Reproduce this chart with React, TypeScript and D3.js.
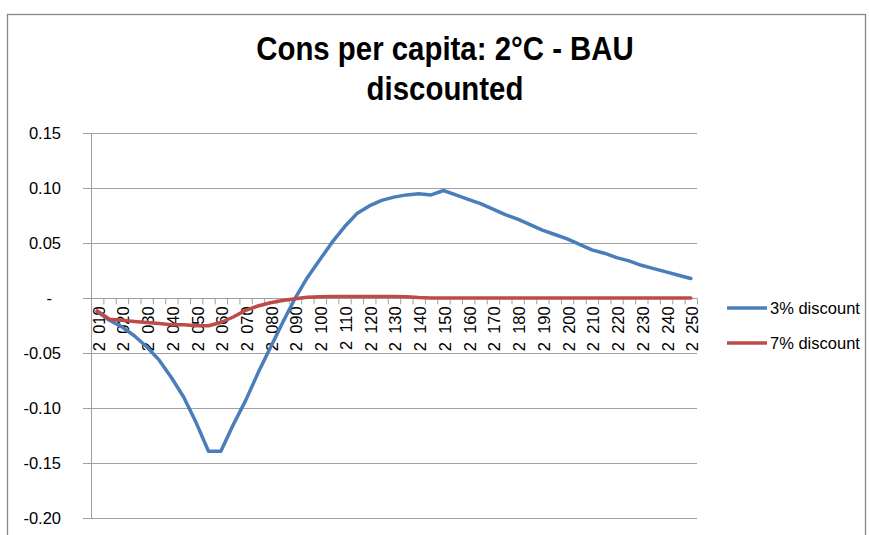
import React from "react";
import * as d3 from "d3";

const years = [
  2010, 2015, 2020, 2025, 2030, 2035, 2040, 2045, 2050, 2055,
  2060, 2065, 2070, 2075, 2080, 2085, 2090, 2095, 2100, 2105,
  2110, 2115, 2120, 2125, 2130, 2135, 2140, 2145, 2150, 2155,
  2160, 2165, 2170, 2175, 2180, 2185, 2190, 2195, 2200, 2205,
  2210, 2215, 2220, 2225, 2230, 2235, 2240, 2245, 2250,
];

const discount3 = [
  -0.012, -0.02, -0.026, -0.034, -0.044, -0.056, -0.072, -0.09, -0.113, -0.139,
  -0.139, -0.115, -0.093, -0.068, -0.045, -0.022, 0.0, 0.019, 0.035, 0.051,
  0.065, 0.077, 0.084, 0.089, 0.092, 0.094, 0.095, 0.094, 0.098, 0.094,
  0.09, 0.086, 0.081, 0.076, 0.072, 0.067, 0.062, 0.058, 0.054, 0.049,
  0.044, 0.041, 0.037, 0.034, 0.03, 0.027, 0.024, 0.021, 0.018,
];

const discount7 = [
  -0.0115, -0.019, -0.02, -0.021, -0.022, -0.023, -0.024, -0.024, -0.025, -0.025,
  -0.022, -0.017, -0.011, -0.007, -0.004, -0.002, -0.0005, 0.001, 0.0015, 0.0017,
  0.0017, 0.0017, 0.0017, 0.0017, 0.0017, 0.0015, 0.0007, 0.0002, 0.0002, 0.0002,
  0.0002, 0.0002, 0.0002, 0.0002, 0.0002, 0.0002, 0.0002, 0.0002, 0.0002, 0.0002,
  0.0002, 0.0002, 0.0002, 0.0002, 0.0002, 0.0002, 0.0002, 0.0002, 0.0002,
];

const yTicks = [0.15, 0.1, 0.05, 0, -0.05, -0.1, -0.15, -0.2];
const yTickLabels = ["0.15", "0.10", "0.05", "-", "-0.05", "-0.10", "-0.15", "-0.20"];

const titleLines = ["Cons per capita: 2°C - BAU", "discounted"];
const seriesNames = ["3% discount", "7% discount"];
const seriesColors = ["#4A7EBB", "#BE4B48"];

const font = "'Liberation Sans', Arial, sans-serif";

// thousands separator like the Excel export: "2 010"
const fmtYear = (y: number) => {
  const s = String(y);
  return s.slice(0, 1) + "\u2002" + s.slice(1);
};

export default function App() {
  const W = 869;
  const H = 535;
  const plot = { left: 91, right: 697, top: 133.3, bottom: 518.3 };

  const x = d3
    .scaleBand<number>()
    .domain(years)
    .range([plot.left, plot.right])
    .padding(0);
  const cx = (y: number) => (x(y) as number) + x.bandwidth() / 2;

  const y = d3.scaleLinear().domain([-0.2, 0.15]).range([plot.bottom, plot.top]);
  const y0 = y(0);

  const line = d3
    .line<number>()
    .x((_, i) => cx(years[i]))
    .y((d) => y(d))
    .curve(d3.curveLinear);

  const series = [discount3, discount7];

  return (
    <div style={{ position: "fixed", left: 0, top: 0 }}>
      <svg width={W} height={H} style={{ display: "block", background: "#fff" }}>
        {/* chart frame */}
        <rect x={7.5} y={14.5} width={858} height={H} fill="#fff" stroke="#898989" strokeWidth={1.3} />

        {/* title, squeezed to mimic the condensed Calibri look */}
        {titleLines.map((t, i) => (
          <text
            key={"tt" + i}
            transform={`translate(445,${60 + i * 40}) scale(0.865,1)`}
            textAnchor="middle"
            fontFamily={font}
            fontWeight="bold"
            fontSize={34}
            fill="#000"
          >
            {t}
          </text>
        ))}

        {/* horizontal gridlines and y ticks */}
        {yTicks.map((t, i) => (
          <g key={"g" + i}>
            {t !== 0 && (
              <line
                x1={plot.left - 8}
                x2={plot.right}
                y1={Math.round(y(t)) + 0.5}
                y2={Math.round(y(t)) + 0.5}
                stroke="#a0a0a0"
                strokeWidth={1}
              />
            )}
            <text
              x={t === 0 ? 52 : 61}
              y={y(t)}
              dy="0.35em"
              textAnchor="end"
              fontFamily={font}
              fontSize={16.5}
              fill="#000"
            >
              {yTickLabels[i]}
            </text>
          </g>
        ))}

        {/* y axis line */}
        <line
          x1={plot.left + 0.5}
          x2={plot.left + 0.5}
          y1={plot.top}
          y2={plot.bottom}
          stroke="#a0a0a0"
          strokeWidth={1}
        />

        {/* x axis at zero */}
        <line x1={plot.left - 8} x2={plot.right} y1={Math.round(y0) + 0.5} y2={Math.round(y0) + 0.5} stroke="#a0a0a0" />
        {years.map((yr) => (
          <line
            key={"t" + yr}
            x1={(x(yr) as number) + 0.5}
            x2={(x(yr) as number) + 0.5}
            y1={y0}
            y2={y0 + 6}
            stroke="#a0a0a0"
          />
        ))}
        <line x1={plot.right + 0.5} x2={plot.right + 0.5} y1={y0} y2={y0 + 6} stroke="#a0a0a0" />

        {years
          .filter((_, i) => i % 2 === 0)
          .map((yr) => (
            <text
              key={"l" + yr}
              transform={`translate(${cx(yr)},${y0 + 8}) rotate(-90)`}
              dy="0.45em"
              textAnchor="end"
              fontFamily={font}
              fontSize={16.5}
              fill="#000"
            >
              {fmtYear(yr)}
            </text>
          ))}

        {/* series */}
        {series.map((s, i) => (
          <path
            key={"s" + i}
            d={line(s) || ""}
            fill="none"
            stroke={seriesColors[i]}
            strokeWidth={3.5}
            strokeLinejoin="round"
            strokeLinecap="round"
          />
        ))}

        {/* legend */}
        {seriesNames.map((n, i) => (
          <g key={"lg" + i} transform={`translate(727,${308 + i * 35})`}>
            <line x1={0} x2={40} y1={0} y2={0} stroke={seriesColors[i]} strokeWidth={3.5} />
            <text x={43} y={0} dy="0.35em" fontFamily={font} fontSize={16.5} fill="#000">
              {n}
            </text>
          </g>
        ))}
      </svg>
    </div>
  );
}
